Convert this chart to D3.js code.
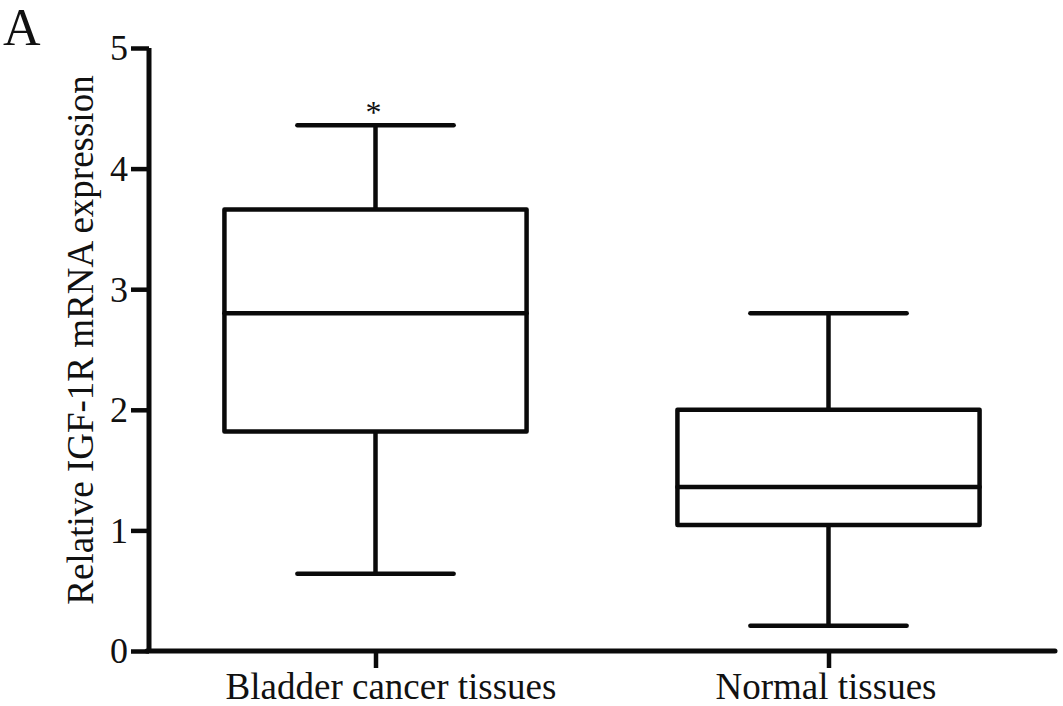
<!DOCTYPE html>
<html><head><meta charset="utf-8">
<script src="https://cdn.jsdelivr.net/npm/d3@7"></script>
<style>body{margin:0;background:#fff}svg{display:block}text{font-family:"Liberation Serif","Times New Roman",serif;fill:#111}</style>
</head><body>
<svg id="c" width="1063" height="706"></svg>
<script>
const categories = ["Bladder cancer tissues", "Normal tissues"];
const minVals = [0.64, 0.21];
const q1Vals = [1.82, 1.045];
const medianVals = [2.80, 1.36];
const q3Vals = [3.66, 2.00];
const maxVals = [4.36, 2.80];
const significance = ["*", ""];
const yTicks = [0, 1, 2, 3, 4, 5];
const labelShift = [15, -3];

const svg = d3.select("#c");
const x = d3.scalePoint().domain(categories).range([149, 1055]).padding(0.5);
const y = d3.scaleLinear().domain([0, 5]).range([651, 48]);
const step = x.step();
const boxW = step * 0.667, capW = step * 0.345;
const col = "#0a0a0a";

const data = categories.map((c, i) => ({c, min: minVals[i], q1: q1Vals[i], med: medianVals[i], q3: q3Vals[i], max: maxVals[i], sig: significance[i]}));

// axes
const yAxis = svg.append("g").attr("transform", "translate(149,0)")
  .call(d3.axisLeft(y).tickValues(yTicks).tickFormat(d3.format("d")).tickSize(18).tickPadding(3));
const xAxis = svg.append("g").attr("transform", "translate(0,651)")
  .call(d3.axisBottom(x).tickSize(17).tickPadding(4));
[yAxis, xAxis].forEach(g => {
  g.attr("font-family", null);
  g.select(".domain").attr("stroke", col).attr("stroke-width", 5);
  g.selectAll(".tick line").attr("stroke", col).attr("stroke-width", 4.5);
  g.selectAll(".tick text").style("font-family", '"Liberation Serif",serif').style("fill", "#111");
});
yAxis.select(".domain").attr("d", "M0,48V651");
xAxis.select(".domain").attr("d", "M147,0H1055").attr("stroke-linecap", "round");
yAxis.selectAll(".tick text").attr("font-size", 36).attr("dy", "0.33em");
xAxis.selectAll(".tick text").attr("font-size", 37).attr("dy", null).attr("y", 48)
  .attr("dx", (d, i) => labelShift[i]);

const g = svg.append("g").attr("stroke", col).attr("stroke-width", 4.5).attr("fill", "none").attr("stroke-linecap", "round");
data.forEach(d => {
  const cx = x(d.c);
  g.append("line").attr("x1", cx).attr("x2", cx).attr("y1", y(d.max)).attr("y2", y(d.q3));
  g.append("line").attr("x1", cx).attr("x2", cx).attr("y1", y(d.q1)).attr("y2", y(d.min));
  g.append("line").attr("x1", cx - capW/2).attr("x2", cx + capW/2).attr("y1", y(d.max)).attr("y2", y(d.max));
  g.append("line").attr("x1", cx - capW/2).attr("x2", cx + capW/2).attr("y1", y(d.min)).attr("y2", y(d.min));
  g.append("rect").attr("x", cx - boxW/2).attr("width", boxW).attr("y", y(d.q3)).attr("height", y(d.q1) - y(d.q3)).attr("fill", "#fff").attr("stroke-linejoin", "round");
  g.append("line").attr("x1", cx - boxW/2).attr("x2", cx + boxW/2).attr("y1", y(d.med)).attr("y2", y(d.med));
  if (d.sig) svg.append("text").attr("x", cx - 2).attr("y", y(d.max) - 2).attr("text-anchor", "middle").attr("font-size", 32).text(d.sig);
});

svg.append("text").attr("transform", "translate(93,340) rotate(-90)").attr("text-anchor", "middle").attr("font-size", 37).text("Relative IGF-1R mRNA expression");
svg.append("text").attr("x", 3).attr("y", 45).attr("font-size", 52).text("A");
</script>
</body></html>
